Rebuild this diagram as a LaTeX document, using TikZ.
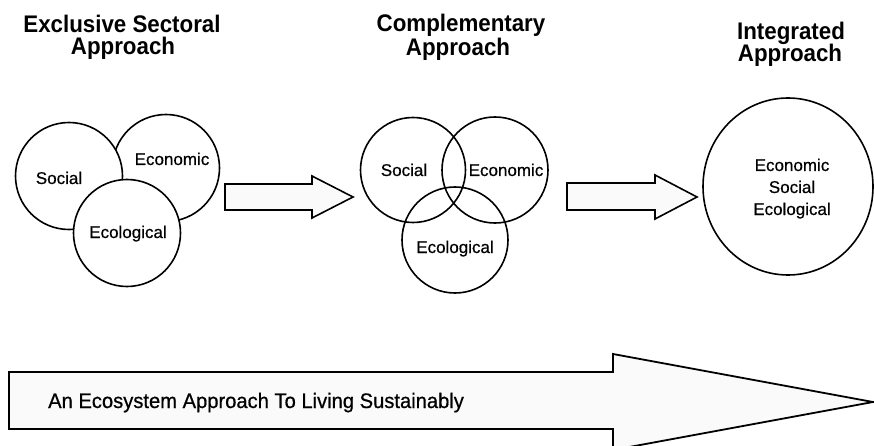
\documentclass[tikz,border=0pt]{standalone}
\usepackage{fontspec}
\setmainfont{Liberation Sans}
\newfontfamily\ttlfont[FakeStretch=0.93]{Liberation Sans}
\newfontfamily\lblfont[FakeBold=0.6]{Liberation Sans}
\newfontfamily\btmfont[FakeStretch=0.96,FakeBold=0.6]{Liberation Sans}
\usetikzlibrary{shapes.geometric}
\tikzset{
  ttl/.style={anchor=base, inner sep=0pt, font=\ttlfont\bfseries\fontsize{24}{24}\selectfont},
  lbl/.style={anchor=base, inner sep=0pt, font=\lblfont\fontsize{17}{17}\selectfont},
  circ/.style={circle, draw=black, fill=white, line width=1.6pt, minimum size=107pt, inner sep=0pt},
  bigcirc/.style={ellipse, draw=black, fill=white, line width=1.6pt, minimum width=170pt, minimum height=177pt, inner sep=0pt},
  blockarrow/.style={draw=black, fill=black!2, line width=1.6pt, line join=miter},
  bigtext/.style={anchor=base west, inner sep=0pt, font=\btmfont\fontsize{21}{21}\selectfont},
}
\begin{document}
\begin{tikzpicture}[x=1pt, y=-1pt]
\useasboundingbox (0,0) rectangle (874,446);
\fill[white] (0,0) rectangle (874,446);

% Titles
\node[ttl] (t1a) at (122,33) {Exclusive Sectoral};
\node[ttl] (t1b) at (123,55) {Approach};
\node[ttl] (t2a) at (461,32) {Complementary};
\node[ttl] (t2b) at (458,56) {Approach};
\node[ttl] (t3a) at (791,40) {Integrated};
\node[ttl] (t3b) at (790,62) {Approach};

% Exclusive sectoral circles
\node[circ] (eco1) at (166,168) {};
\node[circ] (soc1) at (69,176) {};
\node[circ] (ecl1) at (127,233) {};
\node[lbl] (soc1t) at (59,184) {Social};
\node[lbl] (eco1t) at (172,165) {Economic};
\node[lbl] (ecl1t) at (128,238) {Ecological};

% Arrow 1
\draw[blockarrow] (225,184) -- (312,184) -- (312,176) -- (353,197) -- (312,218) -- (312,210) -- (225,210) -- cycle;

% Complementary circles (outlines only, overlapping)
\node[circ, fill=none, minimum size=105pt] (soc2) at (413,170) {};
\node[circ, fill=none, minimum size=106pt] (eco2) at (495,170) {};
\node[circ, fill=none, minimum size=106pt] (ecl2) at (455,240) {};
\node[lbl] (soc2t) at (404,176) {Social};
\node[lbl] (eco2t) at (506,176) {Economic};
\node[lbl] (ecl2t) at (455,253) {Ecological};

% Arrow 2
\draw[blockarrow] (567,183) -- (655,183) -- (655,175) -- (697,197) -- (655,219) -- (655,210) -- (567,210) -- cycle;

% Integrated circle
\node[bigcirc] (int) at (788,186.5) {};
\node[lbl] (int1) at (792,171) {Economic};
\node[lbl] (int2) at (792,193) {Social};
\node[lbl] (int3) at (792,215) {Ecological};

% Big arrow
\draw[blockarrow, line width=1.8pt] (9,372) -- (613,372) -- (613,354) -- (873,402) -- (613,450) -- (613,429) -- (9,429) -- cycle;
\node[bigtext] (bigt) at (48,408) {An Ecosystem Approach To Living Sustainably};
\end{tikzpicture}
\end{document}
